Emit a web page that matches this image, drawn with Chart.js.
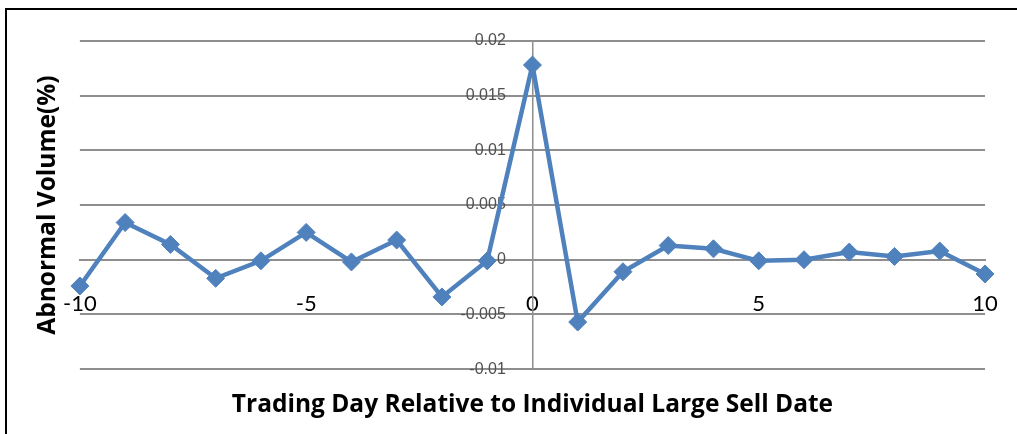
<!DOCTYPE html>
<html>
<head>
<meta charset="utf-8">
<script src="https://cdn.jsdelivr.net/npm/chart.js@4/dist/chart.umd.min.js"></script>
<style>
  html, body { margin: 0; padding: 0; background: #fff; overflow: hidden; width: 1017px; height: 434px; }
  #wrap { position: relative; width: 1017px; height: 434px; }
  #frame { position: absolute; left: 5px; top: 8px; width: 1040px; height: 460px; border: 2px solid #000; box-sizing: border-box; pointer-events: none; }
  canvas { position: absolute; left: 0; top: 0; }
</style>
</head>
<body>
<div id="wrap">
  <canvas id="c" width="1017" height="434"></canvas>
  <div id="frame"></div>
</div>
<script>
// ---- data ----
const days = [-10, -9, -8, -7, -6, -5, -4, -3, -2, -1, 0, 1, 2, 3, 4, 5, 6, 7, 8, 9, 10];
const abnormalVolume = [-0.0024, 0.0034, 0.0014, -0.0017, -0.0001, 0.0025, -0.0002, 0.0018, -0.0034, -0.0001,
                        0.0178, -0.0057, -0.0011, 0.0013, 0.0010, -0.0001, 0.0000, 0.0007, 0.0003, 0.0008, -0.0013];
const xTickLabels = ['-10', '-5', '0', '5', '10'];
const yTickLabels = ['-0.01', '-0.005', '0', '0.005', '0.01', '0.015', '0.02'];
const xTitle = 'Trading Day Relative to Individual Large Sell Date';
const yTitle = 'Abnormal Volume(%)';

const points = days.map((d, i) => ({ x: d, y: abnormalVolume[i] }));
const blue = '#4F81BD';
const gridGray = '#8E8E8E';
const yLabelGap = '      '; // spacing between y labels and the vertical axis

new Chart(document.getElementById('c'), {
  type: 'line',
  data: {
    datasets: [{
      data: points,
      borderColor: blue,
      backgroundColor: blue,
      borderWidth: 4.5,
      pointStyle: 'rectRot',
      pointRadius: 9,
      pointBorderWidth: 1,
      pointBorderColor: blue,
      pointBackgroundColor: blue,
      tension: 0,
      clip: false
    }]
  },
  options: {
    responsive: false,
    animation: false,
    layout: { autoPadding: false, padding: { left: 5, right: 32, top: 41, bottom: 14 } },
    plugins: {
      legend: { display: false },
      tooltip: { enabled: false },
      title: {
        display: true,
        text: yTitle,
        position: 'left',
        fullSize: false,
        color: '#000',
        font: { family: 'Open Sans', size: 24.5, weight: 'bold' },
        padding: { top: 28, bottom: 17.5 }
      },
      subtitle: {
        display: true,
        text: xTitle,
        position: 'bottom',
        fullSize: false,
        color: '#000',
        font: { family: 'Open Sans', size: 24.5, weight: 'bold' },
        padding: { top: 21.5, bottom: 0 }
      }
    },
    scales: {
      x: {
        type: 'linear',
        position: { y: 0 },
        min: -10,
        max: 10,
        grid: { display: false, drawTicks: true, tickLength: 31 },
        border: { display: true, color: gridGray, width: 2 },
        ticks: {
          stepSize: 5,
          padding: 0,
          color: '#000',
          maxRotation: 0,
          font: { family: 'Lato', size: 22 },
          callback: (v) => {
            const s = String(v);
            return xTickLabels.includes(s) ? s : '';
          }
        }
      },
      y: {
        type: 'linear',
        position: { x: 0 },
        min: -0.01,
        max: 0.02,
        grid: { display: true, drawTicks: false, color: gridGray, lineWidth: 2 },
        border: { display: true, color: gridGray, width: 1.5 },
        ticks: {
          stepSize: 0.005,
          color: '#505050',
          font: { family: 'Liberation Sans', size: 16 },
          callback: (v) => {
            const s = String(+Number(v).toFixed(3));
            return yTickLabels.includes(s) ? s + yLabelGap : '';
          }
        }
      }
    }
  }
});
</script>
</body>
</html>
